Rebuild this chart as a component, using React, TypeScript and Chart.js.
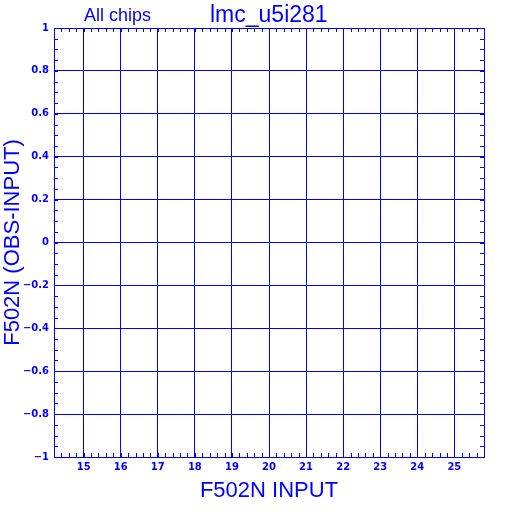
import React, { useEffect, useRef } from "react";
import { Chart, registerables } from "chart.js";

Chart.register(...registerables);

// ---- data / axis definitions ----
const xRange: number[] = [14.2, 25.8];
const yRange: number[] = [-1, 1];
const xMajorTicks: number[] = [15, 16, 17, 18, 19, 20, 21, 22, 23, 24, 25];
const yMajorTicks: number[] = [-1, -0.8, -0.6, -0.4, -0.2, 0, 0.2, 0.4, 0.6, 0.8, 1];
const xMinorStep = 0.2;
const yMinorStep = 0.05;
const points: { x: number; y: number }[] = []; // no data plotted in the reference
const titleLeft = "All chips";
const titleRight = "lmc_u5i281";
const xTitle = "F502N INPUT";
const yTitle = "F502N (OBS-INPUT)";

const BLUE = "#0000ff";
const TICK_FONT = { family: "'DejaVu Sans', sans-serif", size: 10, weight: "bold" as const };

function fmtY(v: number): string {
  const r = Math.round(v * 10) / 10;
  if (r === 0) return "0";
  const s = Math.abs(r).toString();
  return r < 0 ? "\u2212" + s : s;
}

const framePlugin = {
  id: "frameAndMinor",
  afterDraw(chart: any) {
    const { ctx, chartArea } = chart;
    const xs = chart.scales.x;
    const ys = chart.scales.y;
    const { left, right, top, bottom } = chartArea;
    ctx.save();
    ctx.strokeStyle = BLUE;
    ctx.lineWidth = 1;
    // frame
    ctx.strokeRect(Math.round(left) + 0.5, Math.round(top) + 0.5, Math.round(right - left), Math.round(bottom - top));
    // minor ticks (inward)
    const tl = 4;
    ctx.beginPath();
    const nx = Math.round((xRange[1] - xRange[0]) / xMinorStep);
    for (let i = 1; i < nx; i++) {
      const v = xRange[0] + i * xMinorStep;
      const px = Math.round(xs.getPixelForValue(v)) + 0.5;
      ctx.moveTo(px, bottom);
      ctx.lineTo(px, bottom - tl);
      ctx.moveTo(px, top);
      ctx.lineTo(px, top + tl);
    }
    const ny = Math.round((yRange[1] - yRange[0]) / yMinorStep);
    for (let i = 1; i < ny; i++) {
      const v = yRange[0] + i * yMinorStep;
      const py = Math.round(ys.getPixelForValue(v)) + 0.5;
      ctx.moveTo(left, py);
      ctx.lineTo(left + tl, py);
      ctx.moveTo(right, py);
      ctx.lineTo(right - tl, py);
    }
    ctx.stroke();
    // top titles
    ctx.fillStyle = BLUE;
    ctx.textBaseline = "alphabetic";
    ctx.textAlign = "left";
    ctx.font = "18px 'Liberation Sans', sans-serif";
    ctx.fillText(titleLeft, 84, 21);
    ctx.font = "23px 'Liberation Sans', sans-serif";
    ctx.fillText(titleRight, 210, 22);
    ctx.restore();
  },
};

export default function App() {
  const ref = useRef<HTMLCanvasElement | null>(null);
  useEffect(() => {
    if (!ref.current) return;
    const chart = new Chart(ref.current, {
      type: "scatter",
      data: {
        datasets: [
          {
            data: points,
            pointRadius: 2,
            backgroundColor: BLUE,
            borderColor: BLUE,
          },
        ],
      },
      options: {
        animation: false,
        responsive: false,
        maintainAspectRatio: false,
        layout: { padding: { top: 28, right: 28, left: 0, bottom: 0 } },
        plugins: {
          legend: { display: false },
          tooltip: { enabled: false },
          title: { display: false },
        },
        scales: {
          x: {
            type: "linear",
            min: xRange[0],
            max: xRange[1],
            afterBuildTicks: (s: any) => {
              s.ticks = xMajorTicks.map((v) => ({ value: v }));
            },
            afterFit: (s: any) => {
              s.height = 55;
            },
            ticks: {
              color: BLUE,
              font: TICK_FONT,
              padding: 4,
              maxRotation: 0,
              autoSkip: false,
              callback: (v: any) => String(v),
            },
            grid: { color: BLUE, lineWidth: 1, drawTicks: false },
            border: { display: true, color: BLUE, width: 1 },
            title: {
              display: true,
              text: xTitle,
              color: BLUE,
              font: { family: "'Liberation Sans', sans-serif", size: 22 },
              padding: { top: 0, bottom: 8 },
            },
          },
          y: {
            type: "linear",
            min: yRange[0],
            max: yRange[1],
            afterBuildTicks: (s: any) => {
              s.ticks = yMajorTicks.map((v) => ({ value: v }));
            },
            afterFit: (s: any) => {
              s.width = 54;
            },
            ticks: {
              color: BLUE,
              font: TICK_FONT,
              padding: 5,
              autoSkip: false,
              callback: (v: any) => fmtY(Number(v)),
            },
            grid: { color: BLUE, lineWidth: 1, drawTicks: false },
            border: { display: true, color: BLUE, width: 1 },
            title: {
              display: true,
              text: yTitle,
              color: BLUE,
              font: { family: "'Liberation Sans', sans-serif", size: 22 },
              padding: { top: 0, bottom: 0 },
            },
          },
        },
      },
      plugins: [framePlugin],
    } as any);
    return () => chart.destroy();
  }, []);
  return (
    <div style={{ position: "absolute", left: 0, top: 0, width: 512, height: 512, background: "#fff" }}>
      <canvas ref={ref} width={512} height={512} style={{ display: "block", width: 512, height: 512 }} />
    </div>
  );
}
